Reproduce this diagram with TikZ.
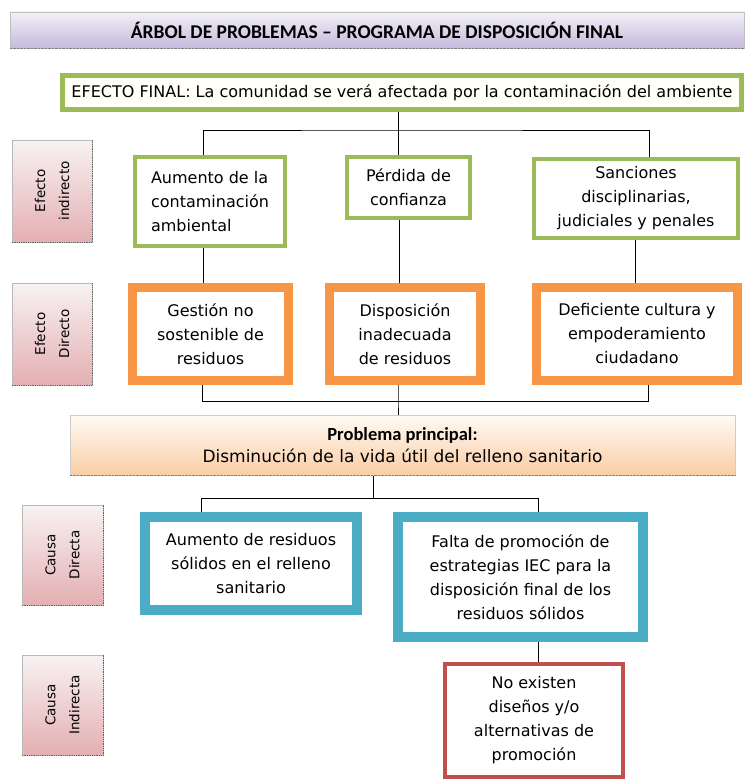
\documentclass[tikz,border=0pt]{standalone}
\usepackage{fontspec}
\setmainfont{DejaVu Sans}
\newfontfamily\carlito{Carlito}
\usepackage{xcolor}
\usepackage{tikz}
\usetikzlibrary{backgrounds}

\definecolor{verde}{HTML}{9BBB59}
\definecolor{naranja}{HTML}{F79646}
\definecolor{azul}{HTML}{4BACC6}
\definecolor{rojo}{HTML}{C0504D}
\definecolor{lilaA}{HTML}{F3F1F8}
\definecolor{lilaB}{HTML}{C4B9DC}
\definecolor{rosaA}{HTML}{F8F2F2}
\definecolor{rosaB}{HTML}{E4AFB2}
\definecolor{melonA}{HTML}{FFFAF4}
\definecolor{melonB}{HTML}{FACDA6}

\begin{document}
\begin{tikzpicture}[x=1pt,y=-1pt,
	caja/.style={draw,fill=white,align=center,inner sep=0pt,font=\fontsize{16}{24}\selectfont},
	efecto/.style={caja,draw=verde,line width=4pt},
	directo/.style={caja,draw=naranja,line width=9pt},
	causa/.style={caja,draw=azul,line width=10pt},
	raiz/.style={caja,draw=rojo,line width=4pt},
	nivel/.style={draw=gray!55,line width=0.6pt,rotate=90,top color=rosaA,bottom color=rosaB,align=center,inner sep=0pt,font=\fontsize{13.5}{24}\selectfont},
	linea/.style={black,line width=1pt}]
		\useasboundingbox (0,0) rectangle (744,781);
		% titulo
		\node[draw=gray!50,line width=0.6pt,top color=lilaA,bottom color=lilaB,minimum width=734pt,minimum height=36pt,font=\carlito\bfseries\fontsize{19.5}{22}\selectfont] (titulo) at (377,30) {ÁRBOL DE PROBLEMAS – PROGRAMA DE DISPOSICIÓN FINAL};
		\draw[densely dotted,gray] (titulo.south west) -- (titulo.south east);
		\node[efecto,line width=5pt,fill=yellow!3,minimum width=679pt,minimum height=34pt] (final) at (402,92.5) {EFECTO FINAL: La comunidad se verá afectada por la contaminación del ambiente};
		% niveles
		\node[nivel,minimum width=102pt,minimum height=80pt] (nivel1) at (52,191) {Efecto\\indirecto};
		\node[nivel,minimum width=102pt,minimum height=80pt] (nivel2) at (52,334) {Efecto\\Directo};
		\node[nivel,minimum width=100pt,minimum height=81pt] (nivel3) at (62.5,555) {Causa\\Directa};
		\node[nivel,minimum width=100pt,minimum height=81pt] (nivel4) at (62.5,705) {Causa\\Indirecta};
		\foreach \n in {nivel1,nivel2,nivel3,nivel4}
			\draw[densely dotted,gray!80!black,line width=0.8pt] (\n.north west) -- (\n.south west) -- (\n.south east);
		% efectos indirectos
		\node[efecto,align=left,minimum width=150pt,minimum height=89pt] (aumento) at (210,201.5) {Aumento de la\\contaminación\\ambiental};
		\node[efecto,minimum width=123pt,minimum height=61pt] (perdida) at (408.5,187.5) {Pérdida de\\confianza};
		\node[efecto,minimum width=204pt,minimum height=79pt] (sanciones) at (636,198.5) {Sanciones\\disciplinarias,\\judiciales y penales};
		% efectos directos
		\node[directo,minimum width=156pt,minimum height=93pt] (gestion) at (210.5,334) {Gestión no\\sostenible de\\residuos};
		\node[directo,minimum width=151pt,minimum height=93pt] (disposicion) at (405,334) {Disposición\\inadecuada\\de residuos};
		\node[directo,minimum width=201pt,minimum height=93pt] (cultura) at (637,334) {Deficiente cultura y\\empoderamiento\\ciudadano};
		% problema
		\node[draw=gray!40,line width=0.6pt,top color=melonA,bottom color=melonB,minimum width=665pt,minimum height=60pt,align=center,font=\fontsize{17}{22}\selectfont] (problema) at (402.5,445) {{\carlito\bfseries\fontsize{18.5}{22}\selectfont Problema principal:}\\Disminución de la vida útil del relleno sanitario};
		\draw[densely dotted,gray] (problema.south west) -- (problema.south east);
		% causas
		\node[causa,minimum width=212pt,minimum height=93pt] (residuos) at (251,563.5) {Aumento de residuos\\sólidos en el relleno\\sanitario};
		\node[causa,minimum width=245pt,minimum height=120pt] (promocion) at (520.5,577) {Falta de promoción de\\estrategias IEC para la\\disposición final de los\\residuos sólidos};
		\node[raiz,minimum width=178pt,minimum height=113pt] (alternativas) at (534,720.5) {No existen\\diseños y/o\\alternativas de\\promoción};
		\begin{scope}[on background layer]
			\draw[linea] ([xshift=-4pt]final.south) -- ++(0,18) coordinate (e1);
			\draw[linea] ([xshift=-7pt]aumento.north) |- (e1) -| ([xshift=13pt]sanciones.north);
			\draw[linea] (e1) -- (e1 |- perdida.north);
			\draw[linea] ([xshift=-7pt]aumento.south) -- ([xshift=-7.5pt]gestion.north);
			\draw[linea] ([xshift=-9.5pt]perdida.south) -- ([xshift=-6pt]disposicion.north);
			\draw[linea] ([xshift=-1pt]sanciones.south) -- ([xshift=-2pt]cultura.north);
			\draw[linea] ([xshift=-7pt]disposicion.south) -- ++(0,16.5) coordinate (e2) -- (e2 |- problema.north);
			\draw[linea] ([xshift=-8pt]gestion.south) |- (e2) -| ([xshift=11pt]cultura.south);
			\draw[linea] ([xshift=-29.5pt]problema.south) -- ++(0,23) coordinate (e3);
			\draw[linea] ([xshift=-50pt]residuos.north) |- (e3) -| ([xshift=17.5pt]promocion.north);
			\draw[linea] ([xshift=17.5pt]promocion.south) -- ([xshift=4pt]alternativas.north);
		\end{scope}
	\end{tikzpicture}
\end{document}
